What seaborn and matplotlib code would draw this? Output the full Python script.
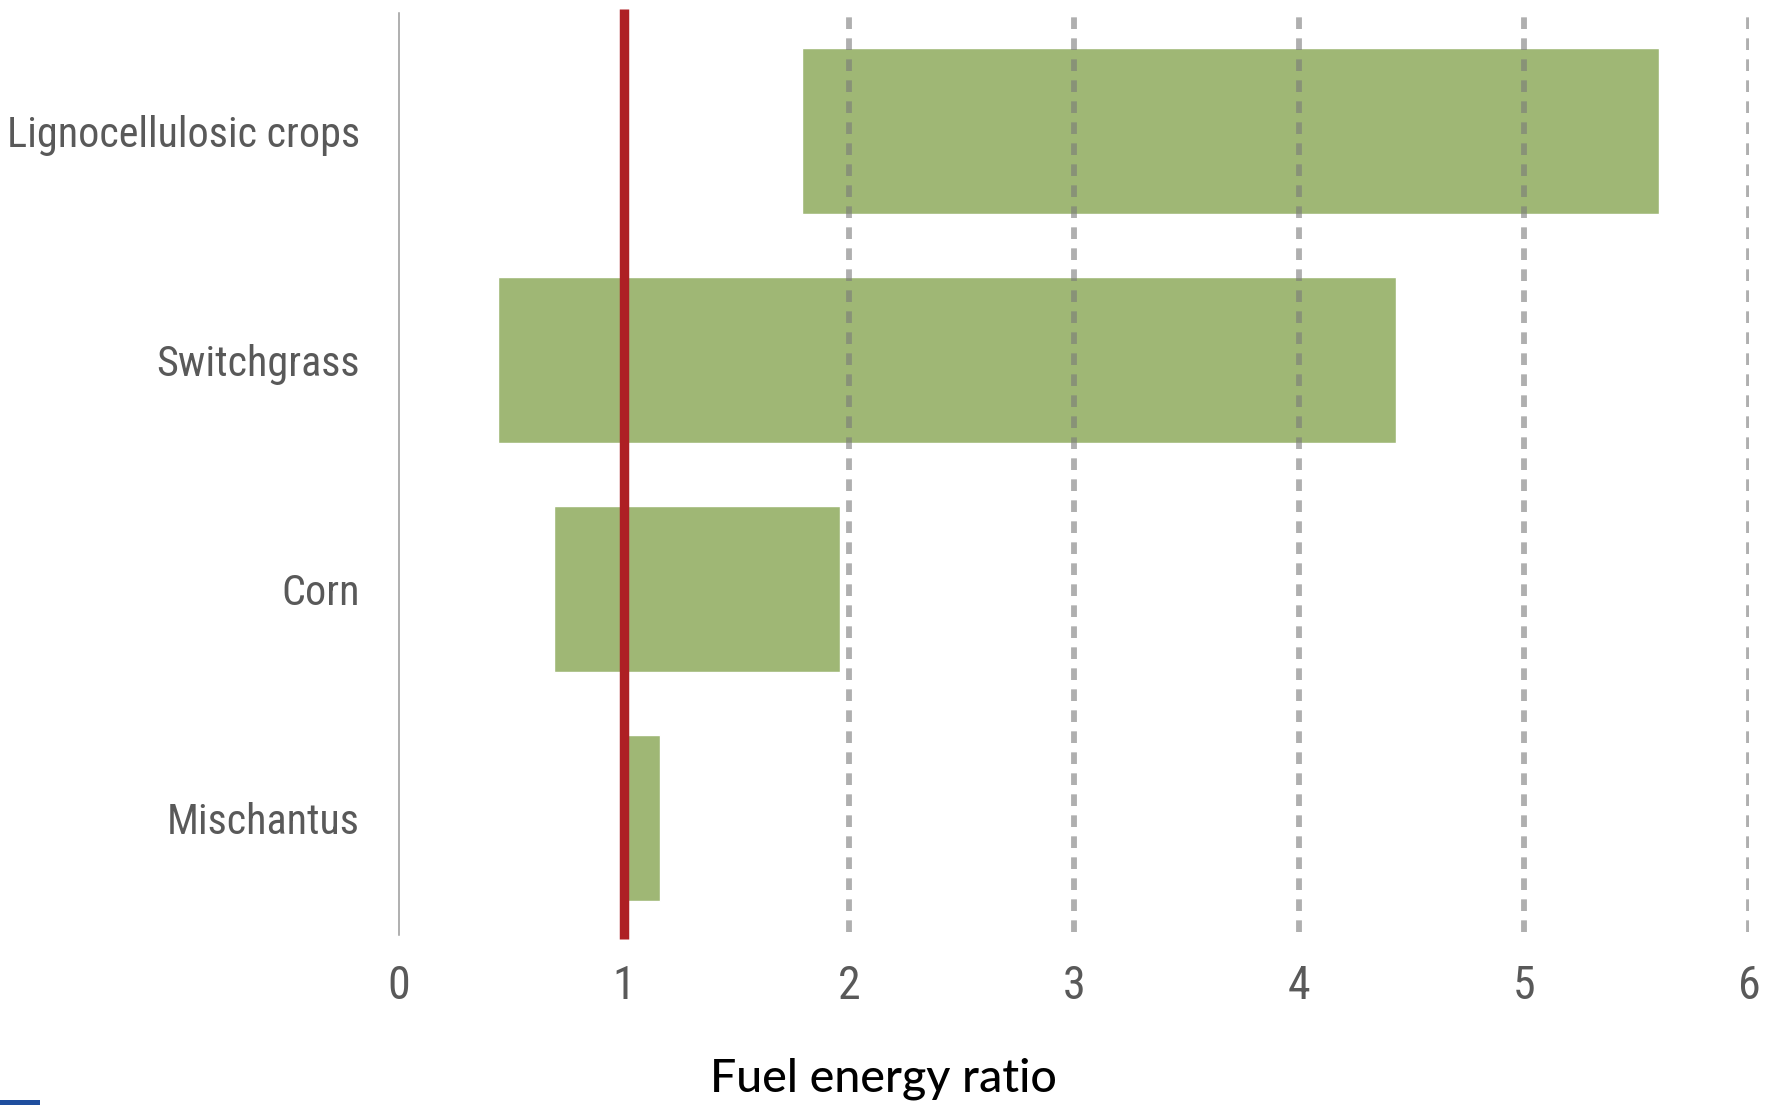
import matplotlib
matplotlib.use("Agg")
import matplotlib.pyplot as plt
import seaborn as sns
import pandas as pd
from matplotlib.patches import Rectangle

# Fuel energy ratio ranges by feedstock (low / high)
crops = ["Lignocellulosic crops", "Switchgrass", "Corn", "Mischantus"]
ratio_low = [1.79, 0.44, 0.69, 1.0]
ratio_high = [5.60, 4.43, 1.96, 1.16]
x_ticks = [0, 1, 2, 3, 4, 5, 6]
break_even = 1.0

df = pd.DataFrame({
    "crop": crops,
    "low": ratio_low,
    "span": [h - l for l, h in zip(ratio_low, ratio_high)],
})

sns.set_theme(style="white")
tick_font = ["Roboto Condensed", "Liberation Sans Narrow", "DejaVu Sans"]

fig = plt.figure(figsize=(17.66, 11.05), dpi=100)
ax = fig.add_axes([0.2258, 0.1538, 0.9905 - 0.2258, 0.9878 - 0.1538])

sns.barplot(data=df, x="span", y="crop", orient="h", left=df["low"].values,
            color="#9FB775", saturation=1, width=0.722, ax=ax, zorder=2)

ax.set_xlim(0, 6)
ax.set_ylim(3.51, -0.512)

# dashed reference lines at each unit
for v in x_ticks[1:]:
    ax.axvline(v, ymin=0.003, ymax=0.9995, color="#7A7A7A", alpha=0.6,
               lw=4.2, ls=(0, (2.0, 1.6)), zorder=3)

# break-even line
ax.axvline(break_even, ymin=-0.0045, ymax=1.0046, color="#AE1F24", lw=6.8,
           zorder=4, clip_on=False, solid_capstyle="butt")

for s in ["top", "right", "bottom"]:
    ax.spines[s].set_visible(False)
ax.spines["left"].set_color("#9A9A9A")
ax.spines["left"].set_linewidth(1.1)
ax.spines["left"].set_zorder(1)

ax.set_xticks(x_ticks)
ax.set_xticklabels([str(t) for t in x_ticks])
ax.tick_params(axis="both", length=0, colors="#595959")
ax.tick_params(axis="x", pad=21, labelsize=33)
ax.tick_params(axis="y", pad=28, labelsize=30.3)
for lab in ax.get_xticklabels() + ax.get_yticklabels():
    lab.set_family(tick_font)
    lab.set_stretch("condensed")
ax.set_xlabel("")
ax.set_ylabel("")

fig.text(0.5, 0.012, "Fuel energy ratio", ha="center", va="baseline",
         fontsize=33.5, color="black", family=["Lato", "DejaVu Sans"],
         weight="medium")

fig.patches.append(Rectangle((0, 0), 40 / 1766, 5 / 1105, transform=fig.transFigure,
                             facecolor="#1F4E9E", edgecolor="none"))

fig.savefig("out.png", dpi=100, facecolor="white")
